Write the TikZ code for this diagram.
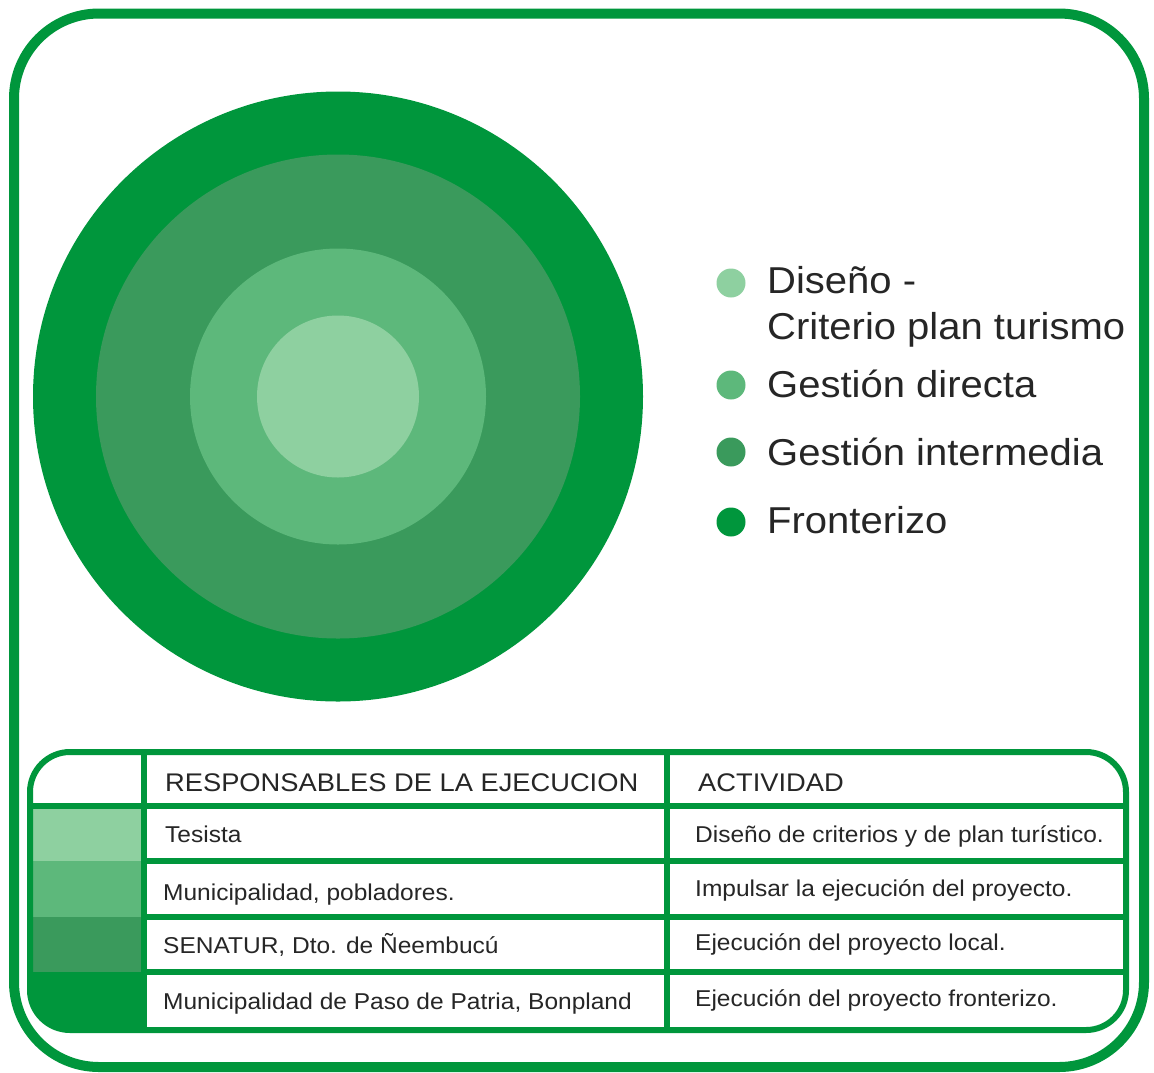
\documentclass[tikz,border=0pt]{standalone}
\usepackage{fontspec}
\setmainfont{Liberation Sans}[FakeStretch=1.07]
\definecolor{fronterizo}{HTML}{00963C}
\definecolor{intermedia}{HTML}{3A9A5C}
\definecolor{directa}{HTML}{5DB87B}
\definecolor{diseno}{HTML}{8ED0A0}
\definecolor{tinta}{HTML}{262626}

\begin{document}
\begin{tikzpicture}[x=1pt, y=-1pt,
	ring/.style={circle, inner sep=0pt, minimum size=#1},
	dot/.style={circle, inner sep=0pt, minimum size=29pt},
	legend/.style={anchor=base west, inner sep=0pt, text=tinta, align=left, font=\fontsize{37.4}{46}\selectfont},
	head/.style={anchor=base west, inner sep=0pt, text=tinta, font=\fontsize{25.5}{30}\selectfont},
	cell/.style={anchor=base west, inner sep=0pt, text=tinta, font=\fontsize{22.9}{28}\selectfont},
	grid/.style={draw=fronterizo, line width=6pt}]
	\useasboundingbox (0,0) rectangle (1154,1072);
	
	% outer frame
	\draw[fronterizo, line width=10pt, rounded corners=85pt] (14,13.5) rectangle (1144,1067);
	
	% rings
	\node (frontera) [ring=610pt, fill=fronterizo] at (338,396.5) {};
	\node (intermedio) [ring=484pt, fill=intermedia] at (frontera) {};
	\node (directo) [ring=296pt, fill=directa] at (frontera) {};
	\node (centro) [ring=162pt, fill=diseno] at (frontera) {};
	
	% legend
	\node (dot diseno) [dot, fill=diseno] at (731,283) {};
	\node (dot directa) [dot, fill=directa] at (731,385) {};
	\node (dot intermedia) [dot, fill=intermedia] at (731,452) {};
	\node (dot fronterizo) [dot, fill=fronterizo] at (731,522) {};
	\node (txt diseno) [legend] at (767,339) {Diseño -\\Criterio plan turismo};
	\node (txt directa) [legend] at (767,397) {Gestión directa};
	\node (txt intermedia) [legend] at (767,465) {Gestión intermedia};
	\node (txt fronterizo) [legend] at (767,533) {Fronterizo};
	
	% table
	\begin{scope}
		\clip[rounded corners=40pt] (30,752) rectangle (1126,1030);
		\fill[white] (30,752) rectangle (1126,1030);
		\fill[diseno] (30,806) rectangle (144,861);
		\fill[directa] (30,861) rectangle (144,917);
		\fill[intermedia] (30,917) rectangle (144,972);
		\fill[fronterizo] (30,972) rectangle (144,1030);
	\end{scope}
	\draw[grid] (30,806) -- (1126,806);
	\foreach \y in {861,917,972}
		\draw[grid] (144,\y) -- (1126,\y);
	\foreach \x in {144,667}
		\draw[grid] (\x,752) -- (\x,1030);
	\draw[grid, rounded corners=40pt] (30,752) rectangle (1126,1030);
	
	\node (resp) [head] at (165,791) {RESPONSABLES DE LA EJECUCION};
	\node (actividad) [head] at (698,791) {ACTIVIDAD};
	\node (tesista) [cell] at (165,842) {Tesista};
	\node (pobladores) [cell] at (163,900) {Municipalidad, pobladores.};
	\node (senatur) [cell] at (163,953) {SENATUR, Dto. de Ñeembucú};
	\node (bonpland) [cell] at (163,1009) {Municipalidad de Paso de Patria, Bonpland};
	\node (act diseno) [cell] at (695,842) {Diseño de criterios y de plan turístico.};
	\node (act impulsar) [cell] at (695,896) {Impulsar la ejecución del proyecto.};
	\node (act local) [cell] at (695,950) {Ejecución del proyecto local.};
	\node (act frontera) [cell] at (695,1006) {Ejecución del proyecto fronterizo.};
\end{tikzpicture}
\end{document}
